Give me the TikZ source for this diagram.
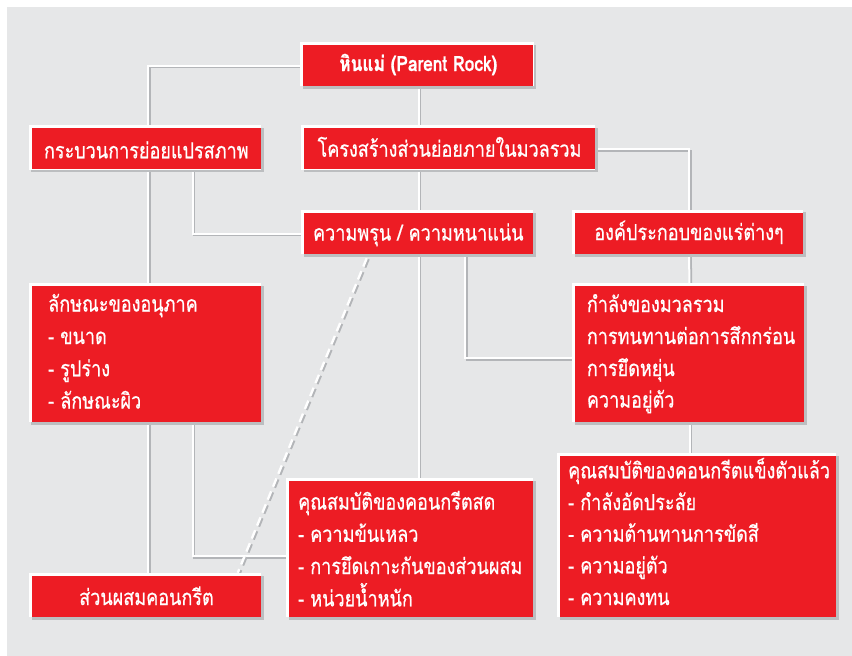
\documentclass[tikz,border=0pt]{standalone}
\usepackage{fontspec}
\newfontfamily\thai[Script=Thai,FakeStretch=0.82,FakeBold=0.6]{Loma}
\usetikzlibrary{calc}
\definecolor{boxred}{HTML}{ED1C24}
\definecolor{bggray}{HTML}{E6E7E8}
\definecolor{shadowgray}{HTML}{BCBEC0}
\definecolor{lineshadow}{HTML}{B3B5B8}
\pgfdeclarelayer{conn}
\pgfdeclarelayer{bevel}
\pgfsetlayers{conn,bevel,main}
\tikzset{
  redbox/.style={fill=boxred, draw=none, inner sep=0pt, minimum width=#1},
  txt/.style={text=white, inner sep=0pt, font=\thai\fontsize{22}{22}\selectfont},
  conn/.style={draw=white, line width=2pt,
    preaction={draw=lineshadow, line width=2pt, transform canvas={shift={(1.8pt,-1.8pt)}}}},
  dconn/.style={draw=white, line width=2.4pt, dash pattern=on 9pt off 5pt,
    preaction={draw=lineshadow, line width=2.4pt, dash pattern=on 9pt off 5pt, transform canvas={shift={(1.8pt,-1.0pt)}}}},
}
\begin{document}
\begin{tikzpicture}[x=1pt,y=-1pt]
\useasboundingbox (0,0) rectangle (852,656);
% boxes
\node[redbox=230pt, minimum height=41pt] (parent) at (418.3,65.5) {};
\node[redbox=229.3pt, minimum height=41pt] (proc) at (146.3,148.8) {};
\node[redbox=291pt, minimum height=41pt] (struct) at (449.5,148.8) {};
\node[redbox=228.7pt, minimum height=41pt] (poro) at (418.3,233.5) {};
\node[redbox=228pt, minimum height=41.5pt] (comp) at (689,233.3) {};
\node[redbox=229.3pt, minimum height=135.7pt] (part) at (146.3,353.8) {};
\node[redbox=229pt, minimum height=136pt] (strength) at (689.5,353.7) {};
\node[redbox=229pt, minimum height=40.7pt] (mix) at (146.5,596.3) {};
\node[redbox=244pt, minimum height=135.4pt] (fresh) at (410.7,549) {};
\node[redbox=276pt, minimum height=161pt] (hard) at (698,536.2) {};
% bevels
\begin{pgfonlayer}{bevel}
\foreach \n in {parent,proc,struct,poro,comp,part,strength,mix,fresh,hard}{
  \fill[shadowgray] (\n.north west) rectangle ($(\n.south east)+(2.7,2.7)$);
  \fill[white] ($(\n.north west)+(-2.7,-2.7)$) rectangle (\n.south east);
}
\end{pgfonlayer}
% connectors
\begin{pgfonlayer}{conn}
\fill[bggray] (7,7) rectangle (852,656);
\coordinate (xa) at (148,0);
\coordinate (xb) at (418.5,0);
\coordinate (xd) at (192.5,0);
\coordinate (xf) at (465,0);
\coordinate (ye) at (0,556);
\coordinate (yf) at (0,358);
\draw[conn] (parent.west) -| (xa |- proc.north);
\draw[conn] (xa |- proc.south) -- (xa |- part.north);
\draw[conn] (xa |- part.south) -- (xa |- mix.north);
\draw[conn] (xb |- parent.south) -- (xb |- struct.north);
\draw[conn] (xb |- struct.south) -- (xb |- poro.north);
\draw[conn] (xb |- poro.south) -- (xb |- fresh.north);
\draw[conn] (struct.east) -| (comp.north);
\draw[conn] (comp.south) -- (strength.north);
\draw[conn] (strength.south) -- (strength.south |- hard.north);
\draw[conn] (xd |- proc.south) |- (poro.west);
\draw[conn] (xd |- part.south) |- (fresh.west |- ye);
\draw[conn] (xf |- poro.south) |- (strength.west |- yf);
\coordinate (dtop) at ($(poro.south west)+(63,4)$);
\coordinate (dbot) at ($(mix.north west)+(206,-3)$);
\draw[dconn] (dtop) -- (dbot);
\end{pgfonlayer}
% texts
\node[txt, anchor=base, font=\thai\bfseries\fontsize{21}{21}\selectfont] (t0) at (418.3,71) {หินแม่ (Parent Rock)};
\node[txt, anchor=base] (t1) at (146.3,158.3) {กระบวนการย่อยแปรสภาพ};
\node[txt, anchor=base] (t2) at (449.5,156.7) {โครงสร้างส่วนย่อยภายในมวลรวม};
\node[txt, anchor=base] (t3) at (418.3,240.5) {ความพรุน / ความหนาแน่น};
\node[txt, anchor=base] (t4) at (689,240) {องค์ประกอบของแร่ต่างๆ};
\node[txt, anchor=base] (t5) at (146.5,605) {ส่วนผสมคอนกรีต};
\node[txt, anchor=base west] (p1) at (48,311.5) {ลักษณะของอนุภาค};
\node[txt, anchor=base west] (p2) at (48,344) {- ขนาด};
\node[txt, anchor=base west] (p3) at (48,376.3) {- รูปร่าง};
\node[txt, anchor=base west] (p4) at (48,408.5) {- ลักษณะผิว};
\node[txt, anchor=base west] (s1) at (586.7,312) {กำลังของมวลรวม};
\node[txt, anchor=base west] (s2) at (586.7,344) {การทนทานต่อการสึกกร่อน};
\node[txt, anchor=base west] (s3) at (586.7,376) {การยึดหยุ่น};
\node[txt, anchor=base west] (s4) at (586.7,407.5) {ความอยู่ตัว};
\node[txt, anchor=base west] (f1) at (298,509.5) {คุณสมบัติของคอนกรีตสด};
\node[txt, anchor=base west] (f2) at (298,541.8) {- ความข้นเหลว};
\node[txt, anchor=base west] (f3) at (298,574) {- การยึดเกาะกันของส่วนผสม};
\node[txt, anchor=base west] (f4) at (298,606.3) {- หน่วยน้ำหนัก};
\node[txt, anchor=base west] (h1) at (568,478.3) {คุณสมบัติของคอนกรีตแข็งตัวแล้ว};
\node[txt, anchor=base west] (h2) at (568,510) {- กำลังอัดประลัย};
\node[txt, anchor=base west] (h3) at (568,541.7) {- ความต้านทานการขัดสี};
\node[txt, anchor=base west] (h4) at (568,573.3) {- ความอยู่ตัว};
\node[txt, anchor=base west] (h5) at (568,605) {- ความคงทน};
\end{tikzpicture}
\end{document}
